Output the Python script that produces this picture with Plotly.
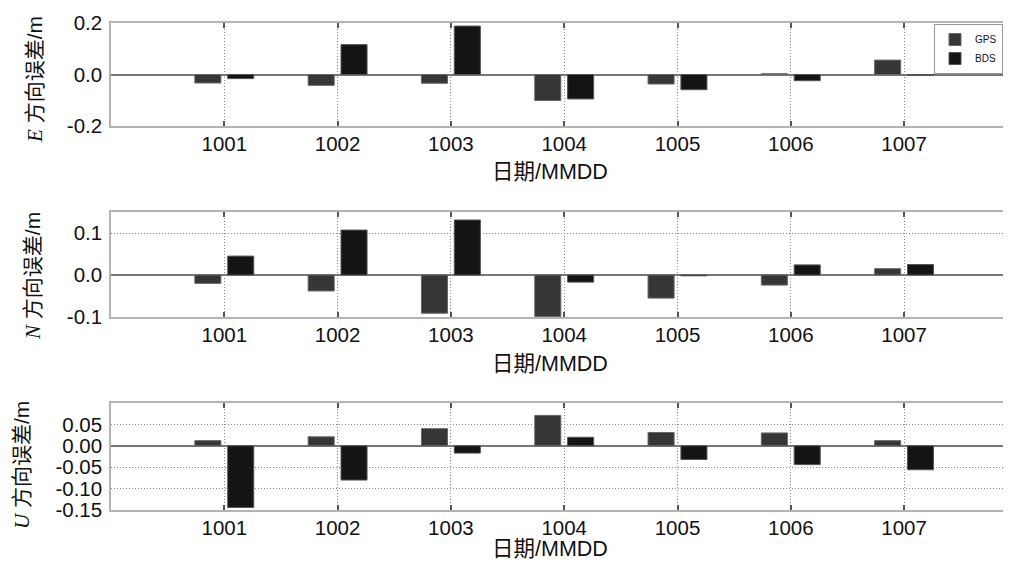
import plotly.graph_objects as go

dates = ["1001", "1002", "1003", "1004", "1005", "1006", "1007"]
e_gps = [-0.033, -0.042, -0.034, -0.101, -0.037, 0.003, 0.056]
e_bds = [-0.016, 0.116, 0.188, -0.095, -0.059, -0.024, -0.004]
n_gps = [-0.020, -0.038, -0.091, -0.099, -0.055, -0.024, 0.015]
n_bds = [0.045, 0.107, 0.131, -0.017, -0.002, 0.024, 0.025]
u_gps = [0.012, 0.021, 0.040, 0.071, 0.031, 0.030, 0.012]
u_bds = [-0.144, -0.080, -0.017, 0.020, -0.032, -0.044, -0.056]

e_ticks = [-0.2, 0.0, 0.2]
e_labels = ["-0.2", "0.0", "0.2"]
n_ticks = [-0.1, 0.0, 0.1]
n_labels = ["-0.1", "0.0", "0.1"]
u_ticks = [-0.15, -0.10, -0.05, 0.0, 0.05]
u_labels = ["-0.15", "-0.10", "-0.05", "0.00", "0.05"]

# The page body keeps its default 8px margin, so the figure is drawn 16px
# smaller than the window and positions are given in window pixels.
OFF = 8
W, H = 1011 - 2 * OFF, 571 - 2 * OFF
def px(x):
    return (x - OFF) / W
def py(y):
    return 1 - (y - OFF) / H

FONT = "Liberation Sans, Arial, Noto Sans CJK SC"
GPS_C = "#363636"
BDS_C = "#141414"
TICK_SIZE = 20.5
X_LEFT = 111
X_STEP = 113.3
x_range = [-1, -1 + (W + OFF - X_LEFT) / X_STEP]

fig = go.Figure()

panels = [
    ("", e_gps, e_bds, e_ticks, e_labels, [-0.2, 0.2], (23, 126), True),
    ("2", n_gps, n_bds, n_ticks, n_labels, [-0.1, 0.15], (212, 317), False),
    ("3", u_gps, u_bds, u_ticks, u_labels, [-0.15, 0.1], (403, 510), False),
]

for suffix, g, b, tv, tl, yr, (top, bot), show in panels:
    xa = "x" + suffix
    ya = "y" + suffix
    fig.add_trace(go.Bar(x=dates, y=g, name="GPS", marker=dict(color=GPS_C, line=dict(color="#666", width=1)),
                         width=0.23, offset=-0.26, xaxis=xa, yaxis=ya, showlegend=show))
    fig.add_trace(go.Bar(x=dates, y=b, name="BDS", marker=dict(color=BDS_C, line=dict(color="#555", width=1)),
                         width=0.23, offset=0.03, xaxis=xa, yaxis=ya, showlegend=show))
    xkey = "xaxis" + suffix
    ykey = "yaxis" + suffix
    fig.update_layout({
        xkey: dict(domain=[px(X_LEFT), 1.0], anchor=ya, type="category", range=x_range,
                   showline=True, mirror="ticks", linecolor="#b4b4b4", linewidth=1.5,
                   ticks="inside", ticklen=5, tickcolor="#555", tickwidth=1.5,
                   showgrid=True, gridcolor="#8a8a8a", griddash="1px,2px", gridwidth=1,
                   tickfont=dict(size=TICK_SIZE, color="#111", family=FONT), zeroline=False,
                   automargin=False, ticklabelstandoff=-1),
        ykey: dict(domain=[py(bot), py(top)], anchor=xa, range=yr, tickvals=tv, ticktext=tl,
                   showline=True, mirror=True, linecolor="#b4b4b4", linewidth=1.5,
                   ticks="", showgrid=True, gridcolor="#8a8a8a", griddash="1px,2px", gridwidth=1,
                   zeroline=True, zerolinecolor="#777", zerolinewidth=1.5,
                   tickfont=dict(size=TICK_SIZE, color="#111", family=FONT), automargin=False,
                   ticklabelstandoff=3),
    })

ann = []
xt_y = [172, 364, 549]
for y in xt_y:
    ann.append(dict(text="日期/MMDD", x=px(550), y=py(y), xref="paper", yref="paper",
                    xanchor="center", yanchor="middle",
                    showarrow=False, font=dict(size=21.5, color="#111", family=FONT)))
ytitles = [("E", 35, 80), ("N", 33, 276), ("U", 22, 465)]
for comp, x, y in ytitles:
    ann.append(dict(text='<span style="font-family:Liberation Serif"><i>%s</i></span> 方向误差/m' % comp,
                    x=px(x), y=py(y), xref="paper", yref="paper", textangle=-90,
                    xanchor="center", yanchor="middle",
                    showarrow=False, font=dict(size=21, color="#111", family=FONT)))

fig.update_layout(
    width=W, height=H, margin=dict(l=0, r=0, t=0, b=0, autoexpand=False),
    paper_bgcolor="white", plot_bgcolor="white",
    annotations=ann,
    showlegend=True,
    legend=dict(x=1.0, xanchor="right", y=py(24), yanchor="top", bgcolor="white",
                bordercolor="#999", borderwidth=1, font=dict(size=10, family=FONT, color="#111"),
                tracegroupgap=0, itemwidth=30),
)

fig.write_html("out.html")
